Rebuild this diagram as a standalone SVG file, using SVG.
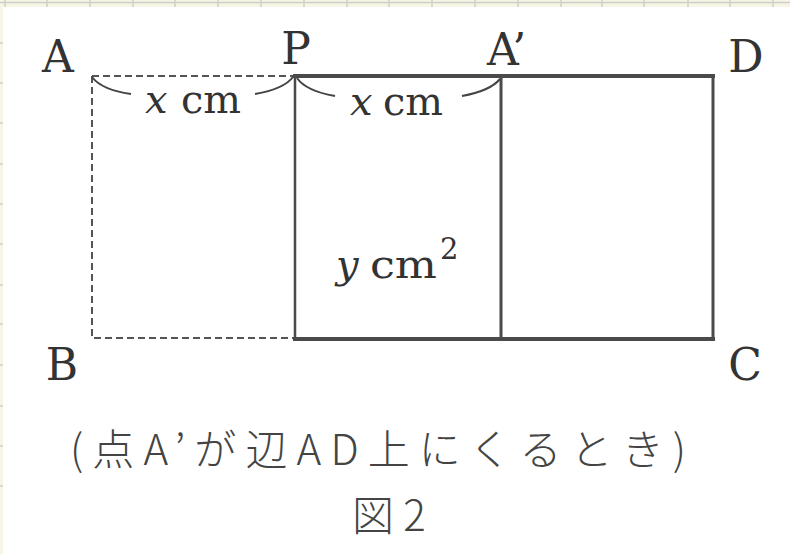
<svg xmlns="http://www.w3.org/2000/svg" width="790" height="554" viewBox="0 0 790 554">
  <style>
    .lbl { font-family: "DejaVu Serif", "Liberation Serif", serif; font-size: 44px; fill: #333; }
    .unit { font-family: "DejaVu Serif", "Liberation Serif", serif; font-size: 40px; fill: #333; }
    .sup { font-family: "DejaVu Serif", "Liberation Serif", serif; font-size: 29px; fill: #333; }
    .var { font-family: "DejaVu Serif", "Liberation Serif", serif; font-style: italic; font-size: 40px; fill: #333; }
    .cap { font-family: "Noto Sans CJK JP", "Noto Sans", sans-serif; font-weight: 300; font-size: 42px; fill: #444; }
    .dash { fill: none; stroke: #555; stroke-width: 2; stroke-dasharray: 7 4; }
    .solid { fill: none; stroke: #4a4a4a; stroke-linecap: square; }
    .brace { fill: none; stroke: #444; stroke-width: 2; }
    .grid { stroke: #cfcfc8; stroke-width: 1.5; }
  </style>
  <rect x="0" y="0" width="790" height="554" fill="#f7f5e6"/>
  <rect x="3" y="7" width="787" height="547" fill="#ffffff"/>
  <g id="sheet-grid" class="grid">
    <line x1="0" y1="2.5" x2="790" y2="2.5"/>
    <line x1="5" y1="0" x2="5" y2="7"/>
    <line x1="47" y1="0" x2="47" y2="7"/>
    <line x1="90" y1="0" x2="90" y2="7"/>
    <line x1="133" y1="0" x2="133" y2="7"/>
    <line x1="175" y1="0" x2="175" y2="7"/>
    <line x1="218" y1="0" x2="218" y2="7"/>
    <line x1="261" y1="0" x2="261" y2="7"/>
    <line x1="304" y1="0" x2="304" y2="7"/>
    <line x1="347" y1="0" x2="347" y2="7"/>
    <line x1="389" y1="0" x2="389" y2="7"/>
    <line x1="432" y1="0" x2="432" y2="7"/>
    <line x1="475" y1="0" x2="475" y2="7"/>
    <line x1="518" y1="0" x2="518" y2="7"/>
    <line x1="561" y1="0" x2="561" y2="7"/>
    <line x1="602" y1="0" x2="602" y2="7"/>
    <line x1="644" y1="0" x2="644" y2="7"/>
    <line x1="688" y1="0" x2="688" y2="7"/>
    <line x1="730" y1="0" x2="730" y2="7"/>
    <line x1="773" y1="0" x2="773" y2="7"/>
    <line x1="0" y1="43" x2="3" y2="43"/>
    <line x1="0" y1="83" x2="3" y2="83"/>
    <line x1="0" y1="123" x2="3" y2="123"/>
    <line x1="0" y1="164" x2="3" y2="164"/>
    <line x1="0" y1="204" x2="3" y2="204"/>
    <line x1="0" y1="244" x2="3" y2="244"/>
    <line x1="0" y1="285" x2="3" y2="285"/>
    <line x1="0" y1="324" x2="3" y2="324"/>
    <line x1="0" y1="365" x2="3" y2="365"/>
    <line x1="0" y1="406" x2="3" y2="406"/>
    <line x1="0" y1="446" x2="3" y2="446"/>
    <line x1="0" y1="486" x2="3" y2="486"/>
  </g>
  <g id="connectors">
    <path id="edge-original-AB" class="dash" d="M92,76 L92,338 L294,338"/>
    <path id="edge-original-AP" class="dash" d="M92,76 L294,76"/>
    <line id="edge-P-vertical" class="solid" stroke-width="2.5" x1="295" y1="76" x2="295" y2="338"/>
    <line id="edge-Aprime-vertical" class="solid" stroke-width="3" x1="501" y1="76" x2="501" y2="338"/>
    <line id="edge-top" class="solid" stroke-width="4" x1="295" y1="76" x2="713" y2="76"/>
    <line id="edge-right" class="solid" stroke-width="3" x1="713" y1="76" x2="713" y2="339"/>
    <line id="edge-bottom" class="solid" stroke-width="4" x1="295" y1="339" x2="713" y2="339"/>
    <path id="brace-AP-left" class="brace" d="M92,77 Q102,90 131,94"/>
    <path id="brace-AP-right" class="brace" d="M255,94 Q284,89 293,77"/>
    <path id="brace-PA-left" class="brace" d="M297,78 Q306,91 335,96"/>
    <path id="brace-PA-right" class="brace" d="M462,96 Q490,91 500,79"/>
  </g>
  <g id="node-A"><text class="lbl" x="58" y="72" text-anchor="middle">A</text></g>
  <g id="node-P"><text class="lbl" x="296" y="64" text-anchor="middle">P</text></g>
  <g id="node-Aprime"><text class="lbl" x="487" y="65">A’</text></g>
  <g id="node-D"><text class="lbl" x="746" y="72" text-anchor="middle">D</text></g>
  <g id="node-B"><text class="lbl" x="62" y="380" text-anchor="middle">B</text></g>
  <g id="node-C"><text class="lbl" x="745" y="380" text-anchor="middle">C</text></g>
  <g id="label-AP">
    <text class="var" x="145" y="113">x</text>
    <text class="unit" x="181" y="113" textLength="60" lengthAdjust="spacingAndGlyphs">cm</text>
  </g>
  <g id="label-PA">
    <text class="var" x="350" y="115">x</text>
    <text class="unit" x="383" y="115" textLength="60" lengthAdjust="spacingAndGlyphs">cm</text>
  </g>
  <g id="label-area">
    <text class="var" x="336" y="278">y</text>
    <text class="unit" x="370" y="278" textLength="67" lengthAdjust="spacingAndGlyphs">cm</text>
    <text class="sup" x="440" y="259">2</text>
  </g>
  <g id="caption">
    <text class="cap" x="70" y="465" textLength="616" lengthAdjust="spacing">(点A’が辺AD上にくるとき)</text>
    <text class="cap" x="352" y="531">図 2</text>
  </g>
</svg>
